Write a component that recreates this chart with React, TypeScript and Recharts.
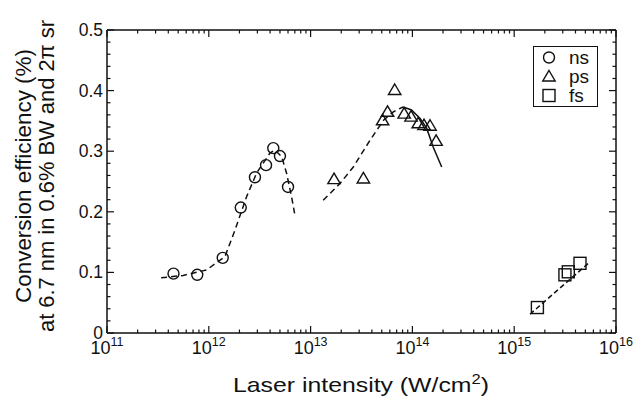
import { ScatterChart, Scatter, XAxis, YAxis, Legend } from 'recharts'

// ns pulses
const nsIntensity = [4.5e11, 7.7e11, 1.37e12, 2.06e12, 2.84e12, 3.65e12, 4.3e12, 5.0e12, 6.0e12]
const nsEfficiency = [0.098, 0.096, 0.124, 0.207, 0.257, 0.277, 0.305, 0.292, 0.241]
const nsFitIntensity = [3.4e11, 5.6e11, 9.5e11, 1.44e12, 1.81e12, 2.35e12, 2.95e12, 3.99e12, 4.47e12, 5.2e12, 5.8e12, 6.5e12, 7.0e12]
const nsFitEfficiency = [0.091, 0.095, 0.104, 0.126, 0.17, 0.225, 0.264, 0.297, 0.302, 0.291, 0.264, 0.225, 0.195]

// ps pulses
const psIntensity = [1.7e13, 3.3e13, 5.1e13, 5.7e13, 6.7e13, 8.3e13, 9.7e13, 1.14e14, 1.3e14, 1.49e14, 1.71e14]
const psEfficiency = [0.254, 0.255, 0.351, 0.365, 0.401, 0.362, 0.357, 0.346, 0.343, 0.342, 0.317]
// rising side of the fit is dashed, the falling side is solid
const psRiseIntensity = [1.33e13, 1.95e13, 2.63e13, 3.83e13, 5.2e13, 6.5e13, 8.1e13]
const psRiseEfficiency = [0.219, 0.247, 0.274, 0.318, 0.351, 0.365, 0.373]
const psFallIntensity = [8.1e13, 9.8e13, 1.19e14, 1.38e14, 1.6e14, 1.94e14]
const psFallEfficiency = [0.373, 0.368, 0.354, 0.338, 0.307, 0.274]

// fs pulses
const fsIntensity = [1.69e15, 3.15e15, 3.4e15, 4.43e15]
const fsEfficiency = [0.042, 0.096, 0.101, 0.115]
const fsFitIntensity = [1.43e15, 5.35e15]
const fsFitEfficiency = [0.031, 0.115]

const legendLabels = ['ns', 'ps', 'fs']
const xExponents = [11, 12, 13, 14, 15, 16]

const FONT = '"Liberation Sans", Arial, Helvetica, sans-serif'
const INK = '#111'

const pts = (xs: number[], ys: number[]) => xs.map((x, i) => ({ x, y: ys[i] }))

// log ticks: decades plus 2..9 minors
const xTicks: number[] = []
xExponents.forEach((e, i) => {
  const lim = i === xExponents.length - 1 ? 1 : 9
  for (let m = 1; m <= lim; m++) xTicks.push(m * Math.pow(10, e))
})
const yTicks: number[] = []
for (let i = 0; i <= 25; i++) yTicks.push(Math.round(i * 2) / 100)

const isDecade = (v: number) => Math.abs(Math.log10(v) - Math.round(Math.log10(v))) < 1e-6
const isLabelY = (v: number) => Math.round(v * 100) % 10 === 0

function CircleMark(p: any) {
  return <circle cx={p.cx} cy={p.cy} r={5.5} fill="none" stroke={INK} strokeWidth={1.4} />
}
function TriangleMark(p: any) {
  const { cx, cy } = p
  return <path d={`M${cx},${cy - 6}L${cx + 6.2},${cy + 4.5}L${cx - 6.2},${cy + 4.5}Z`} fill="none" stroke={INK} strokeWidth={1.4} />
}
function SquareMark(p: any) {
  return <rect x={p.cx - 6} y={p.cy - 6} width={12} height={12} fill="none" stroke={INK} strokeWidth={1.4} />
}
const NoMark = () => <g />

function BottomTick({ x, y, payload }: any) {
  const major = isDecade(payload.value)
  return (
    <g>
      <line x1={x} y1={y} x2={x} y2={y - (major ? 7 : 3.5)} stroke={INK} strokeWidth={1.2} />
      {major && (
        <text x={x} y={y + 21} textAnchor="middle" fontSize={18} fontFamily={FONT} fill={INK}>
          10<tspan dy={-8} fontSize={12.5}>{Math.round(Math.log10(payload.value))}</tspan>
        </text>
      )}
    </g>
  )
}
function TopTick({ x, y, payload }: any) {
  const major = isDecade(payload.value)
  return <line x1={x} y1={y} x2={x} y2={y + (major ? 7 : 3.5)} stroke={INK} strokeWidth={1.2} />
}
function LeftTick({ x, y, payload }: any) {
  const major = isLabelY(payload.value)
  return (
    <g>
      <line x1={x} y1={y} x2={x + (major ? 7 : 3.5)} y2={y} stroke={INK} strokeWidth={1.2} />
      {major && (
        <text x={x - 4} y={y + 6} textAnchor="end" fontSize={17.5} fontFamily={FONT} fill={INK}>
          {payload.value === 0 ? '0' : payload.value.toFixed(1)}
        </text>
      )}
    </g>
  )
}
function RightTick({ x, y, payload }: any) {
  const major = isLabelY(payload.value)
  return <line x1={x} y1={y} x2={x - (major ? 7 : 3.5)} y2={y} stroke={INK} strokeWidth={1.2} />
}

const marks = [CircleMark, TriangleMark, SquareMark]

function LegendBox() {
  return (
    <div style={{ border: `1.5px solid ${INK}`, background: '#fff', padding: '1px 8px 1px 5px', fontFamily: FONT, fontSize: 19, color: INK }}>
      {legendLabels.map((label, i) => {
        const Mark = marks[i]
        return (
          <div key={label} style={{ display: 'flex', alignItems: 'center', height: 19 }}>
            <svg width={20} height={19} style={{ marginRight: 10 }}>
              <Mark cx={10} cy={9.5} />
            </svg>
            <span style={{ lineHeight: '19px' }}>{label}</span>
          </div>
        )
      })}
    </div>
  )
}

const axisLine = { stroke: INK, strokeWidth: 1.5 }

export default function App() {
  return (
    <div style={{ position: 'absolute', left: 0, top: 0, width: 640, height: 408, background: '#fff' }}>
      <ScatterChart width={640} height={408} margin={{ top: 10, right: 4, bottom: 0, left: 0 }}>
        <XAxis
          type="number"
          dataKey="x"
          scale="log"
          domain={[1e11, 1e16]}
          allowDataOverflow
          ticks={xTicks}
          interval={0}
          tickSize={0}
          tickMargin={0}
          tickLine={false}
          axisLine={axisLine}
          height={75}
          tick={(p: any) => <BottomTick {...p} />}
        />
        <XAxis
          xAxisId="top"
          orientation="top"
          type="number"
          dataKey="x"
          scale="log"
          domain={[1e11, 1e16]}
          allowDataOverflow
          ticks={xTicks}
          interval={0}
          tickSize={0}
          tickMargin={0}
          tickLine={false}
          axisLine={axisLine}
          height={20}
          tick={(p: any) => <TopTick {...p} />}
        />
        <YAxis
          type="number"
          dataKey="y"
          domain={[0, 0.5]}
          allowDataOverflow
          ticks={yTicks}
          interval={0}
          tickSize={0}
          tickMargin={0}
          tickLine={false}
          axisLine={axisLine}
          width={107}
          tick={(p: any) => <LeftTick {...p} />}
        />
        <YAxis
          yAxisId="right"
          orientation="right"
          type="number"
          dataKey="y"
          domain={[0, 0.5]}
          allowDataOverflow
          ticks={yTicks}
          interval={0}
          tickSize={0}
          tickMargin={0}
          tickLine={false}
          axisLine={axisLine}
          width={20}
          tick={(p: any) => <RightTick {...p} />}
        />
        <Legend
          layout="vertical"
          align="center"
          verticalAlign="middle"
          wrapperStyle={{ left: 533, top: 46, width: 'auto', height: 'auto' }}
          content={() => <LegendBox />}
        />
        <Scatter name="ns fit" data={pts(nsFitIntensity, nsFitEfficiency)} shape={NoMark} line={{ stroke: INK, strokeWidth: 1.5, strokeDasharray: '6 4' }} legendType="none" isAnimationActive={false} />
        <Scatter name="ps fit rise" data={pts(psRiseIntensity, psRiseEfficiency)} shape={NoMark} line={{ stroke: INK, strokeWidth: 1.5, strokeDasharray: '6 4' }} legendType="none" isAnimationActive={false} />
        <Scatter name="ps fit fall" data={pts(psFallIntensity, psFallEfficiency)} shape={NoMark} line={{ stroke: INK, strokeWidth: 1.5 }} legendType="none" isAnimationActive={false} />
        <Scatter name="fs fit" data={pts(fsFitIntensity, fsFitEfficiency)} shape={NoMark} line={{ stroke: INK, strokeWidth: 1.5, strokeDasharray: '5 3' }} legendType="none" isAnimationActive={false} />
        <Scatter name="ns" data={pts(nsIntensity, nsEfficiency)} shape={CircleMark} isAnimationActive={false} />
        <Scatter name="ps" data={pts(psIntensity, psEfficiency)} shape={TriangleMark} isAnimationActive={false} />
        <Scatter name="fs" data={pts(fsIntensity, fsEfficiency)} shape={SquareMark} isAnimationActive={false} />
      </ScatterChart>
      <svg width={640} height={408} style={{ position: 'absolute', left: 0, top: 0, pointerEvents: 'none' }}>
        <g fontFamily={FONT} fill={INK}>
          <text x={31} y={176} transform="rotate(-90 31 176)" textAnchor="middle" fontSize={22} textLength={254} lengthAdjust="spacingAndGlyphs">
            Conversion efficiency (%)
          </text>
          <text x={54} y={176} transform="rotate(-90 54 176)" textAnchor="middle" fontSize={22} textLength={312} lengthAdjust="spacingAndGlyphs">
            at 6.7 nm in 0.6% BW and 2π sr
          </text>
          <text x={361} y={392} textAnchor="middle" fontSize={21} textLength={256} lengthAdjust="spacingAndGlyphs">
            Laser intensity (W/cm<tspan dy={-8} fontSize={14}>2</tspan><tspan dy={8}>)</tspan>
          </text>
        </g>
      </svg>
    </div>
  )
}
